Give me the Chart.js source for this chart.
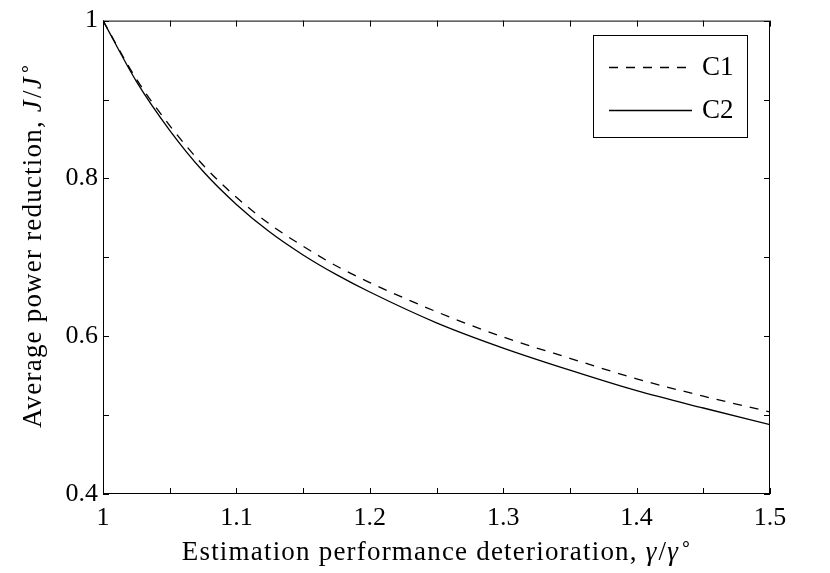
<!DOCTYPE html>
<html>
<head>
<meta charset="utf-8">
<script src="https://cdn.jsdelivr.net/npm/chart.js@4"></script>
<style>
  html, body { margin: 0; padding: 0; background: #fff; }
  canvas { display: block; }
</style>
</head>
<body>
<canvas id="chart" width="830" height="573"></canvas>
<script>
// values
const ratioGamma = [1.0, 1.025, 1.05, 1.075, 1.1, 1.125, 1.15, 1.175, 1.2, 1.25, 1.3, 1.35, 1.4, 1.45, 1.5];
const c1Values = [1.0, 0.926, 0.867, 0.817, 0.776, 0.742, 0.714, 0.689, 0.668, 0.631, 0.599, 0.572, 0.546, 0.524, 0.504];
const c2Values = [1.0, 0.923, 0.861, 0.809, 0.767, 0.732, 0.703, 0.678, 0.656, 0.617, 0.585, 0.557, 0.531, 0.509, 0.488];
const seriesNames = ['C1', 'C2'];
const xLabelTicks = [1, 1.1, 1.2, 1.3, 1.4, 1.5];
const yLabelTicks = [0.4, 0.6, 0.8, 1];

const FONT = '"Liberation Serif", "Times New Roman", serif';

function toPoints(ys) {
  return ratioGamma.map((x, i) => ({ x: x, y: ys[i] }));
}

function near(v, list) {
  return list.some((t) => Math.abs(t - v) < 1e-6);
}

// draws frame, inward ticks on all four sides, axis titles and legend box
const framePlugin = {
  id: 'frame',
  afterDraw(chart) {
    const ctx = chart.ctx;
    const a = chart.chartArea;
    const xs = chart.scales.x;
    const ys = chart.scales.y;
    ctx.save();
    ctx.strokeStyle = '#000';
    ctx.lineWidth = 1;
    ctx.strokeRect(a.left + 0.5, a.top + 0.5, a.right - a.left - 1, a.bottom - a.top - 1);

    const tl = 6;
    ctx.beginPath();
    xs.ticks.forEach((t) => {
      const px = Math.round(xs.getPixelForValue(t.value)) + 0.5;
      ctx.moveTo(px, a.bottom); ctx.lineTo(px, a.bottom - tl);
      ctx.moveTo(px, a.top); ctx.lineTo(px, a.top + tl);
    });
    ys.ticks.forEach((t) => {
      const py = Math.round(ys.getPixelForValue(t.value)) + 0.5;
      ctx.moveTo(a.left, py); ctx.lineTo(a.left + tl, py);
      ctx.moveTo(a.right, py); ctx.lineTo(a.right - tl, py);
    });
    ctx.stroke();

    // axis titles, with italic math parts
    ctx.fillStyle = '#000';
    ctx.textBaseline = 'alphabetic';
    const size = 27;
    const normal = size + 'px ' + FONT;
    const ital = 'italic ' + size + 'px ' + FONT;
    const small = Math.round(size * 0.7) + 'px ' + FONT;
    const xParts = [
      ['Estimation performance deterioration, ', normal, 0],
      ['γ', ital, 0], ['/', normal, 0], ['γ', ital, 0], ['∘', small, -10]
    ];
    const yParts = [
      ['Average power reduction, ', normal, 0],
      ['J', ital, 0], ['/', normal, 0], ['J', ital, 0], ['∘', small, -10]
    ];
    if ('letterSpacing' in ctx) ctx.letterSpacing = '1.2px';
    function widthOf(parts) {
      let w = 0;
      parts.forEach((p) => { ctx.font = p[1]; w += ctx.measureText(p[0]).width; });
      return w;
    }
    function drawParts(parts, x0, y0) {
      let x = x0;
      parts.forEach((p) => {
        ctx.font = p[1];
        ctx.fillText(p[0], x, y0 + p[2]);
        x += ctx.measureText(p[0]).width + (p[1] === ital ? 1 : 0);
      });
    }
    const cx = (a.left + a.right) / 2;
    drawParts(xParts, cx - widthOf(xParts) / 2, 560);

    ctx.save();
    ctx.translate(41, 246);
    ctx.rotate(-Math.PI / 2);
    drawParts(yParts, -widthOf(yParts) / 2, 0);
    ctx.restore();
    if ('letterSpacing' in ctx) ctx.letterSpacing = '0px';

    // legend
    const bx = 593, by = 35, bw = 154, bh = 102;
    ctx.fillStyle = '#fff';
    ctx.fillRect(bx, by, bw, bh);
    ctx.strokeRect(bx + 0.5, by + 0.5, bw, bh);
    chart.data.datasets.forEach((ds, i) => {
      const ly = [67, 110][i];
      ctx.beginPath();
      ctx.lineWidth = ds.borderWidth;
      ctx.setLineDash(ds.borderDash || []);
      ctx.moveTo(609, ly + 0.5);
      ctx.lineTo(692, ly + 0.5);
      ctx.stroke();
      ctx.setLineDash([]);
      ctx.font = '27px ' + FONT;
      ctx.fillStyle = '#000';
      ctx.textBaseline = 'middle';
      ctx.fillText(ds.label, 702, ly + 1);
    });
    ctx.restore();
  }
};

const chart = new Chart(document.getElementById('chart').getContext('2d'), {
  type: 'line',
  data: {
    datasets: [
      {
        label: seriesNames[0],
        data: toPoints(c1Values),
        borderColor: '#000',
        borderWidth: 1.3,
        borderDash: [9, 8],
        pointRadius: 0,
        cubicInterpolationMode: 'monotone',
        fill: false,
      },
      {
        label: seriesNames[1],
        data: toPoints(c2Values),
        borderColor: '#000',
        borderWidth: 1.3,
        pointRadius: 0,
        cubicInterpolationMode: 'monotone',
        fill: false,
      },
    ],
  },
  options: {
    responsive: false,
    animation: false,
    events: [],
    layout: { padding: { top: 17, right: 60, left: 0, bottom: 0 } },
    plugins: {
      legend: { display: false },
      tooltip: { enabled: false },
    },
    scales: {
      x: {
        type: 'linear',
        min: 1,
        max: 1.5,
        grid: { display: false, drawTicks: false },
        border: { display: false },
        afterFit(scale) { scale.height = 79; },
        ticks: {
          stepSize: 0.05,
          autoSkip: false,
          maxRotation: 0,
          padding: 9,
          color: '#000',
          font: { family: FONT, size: 26 },
          callback(v) { return near(v, xLabelTicks) ? String(+v.toFixed(1)) : ''; },
        },
      },
      y: {
        type: 'linear',
        min: 0.4,
        max: 1,
        grid: { display: false, drawTicks: false },
        border: { display: false },
        afterFit(scale) { scale.width = 103; },
        ticks: {
          stepSize: 0.1,
          autoSkip: false,
          padding: 5,
          color: '#000',
          font: { family: FONT, size: 26 },
          callback(v) { return near(v, yLabelTicks) ? String(+v.toFixed(1)) : ''; },
        },
      },
    },
  },
  plugins: [framePlugin],
});
</script>
</body>
</html>
